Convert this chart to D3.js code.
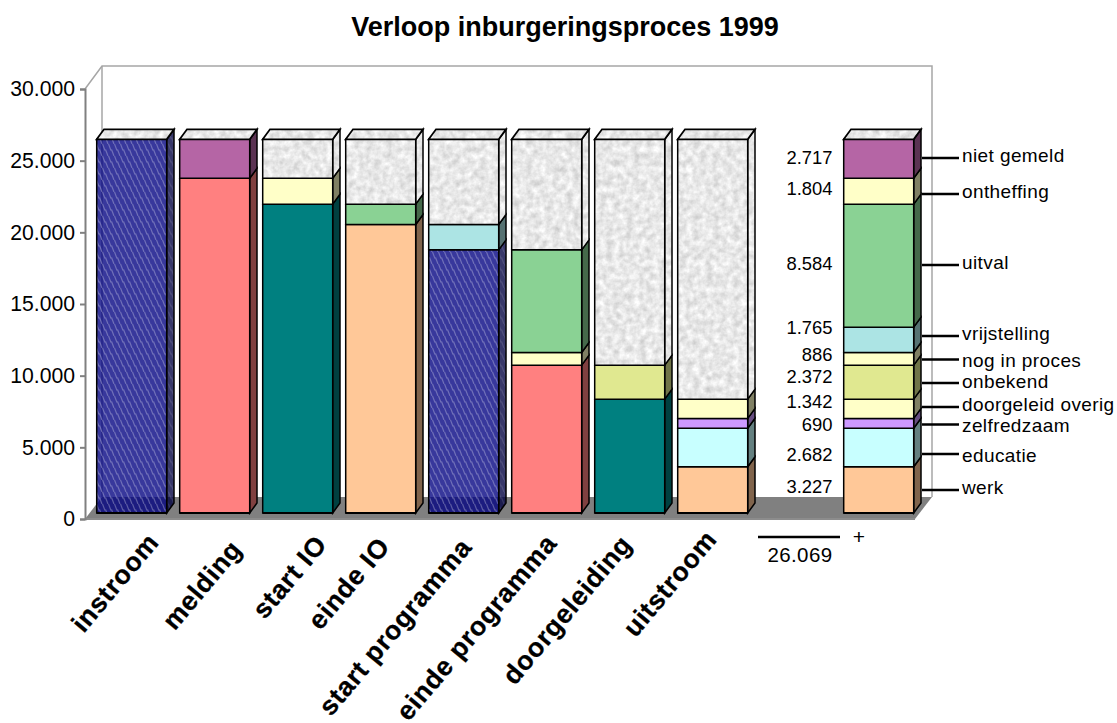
<!DOCTYPE html>
<html><head><meta charset="utf-8">
<style>html,body{margin:0;padding:0;background:#fff}svg{display:block}text{font-family:"Liberation Sans",Arial,sans-serif;fill:#000}</style>
<script src="https://cdn.jsdelivr.net/npm/d3@7/dist/d3.min.js"></script>
</head><body><svg id="c" width="1117" height="723"></svg>
<script>
const title = "Verloop inburgeringsproces 1999";
const categories = ["instroom","melding","start IO","einde IO","start programma","einde programma","doorgeleiding","uitstroom","gap","totaal"];
const yTicks = [0,5000,10000,15000,20000,25000,30000];
// stacked series, bottom to top, one value per category
const instroomValues       = [26069,0,0,0,18360,0,0,0,0,0];
const meldingValues        = [0,23352,0,0,0,10313,0,0,0,0];
const startIOValues        = [0,0,21548,0,0,0,7941,0,0,0];
const werkValues           = [0,0,0,20125,0,0,0,3227,0,3227];
const educatieValues       = [0,0,0,0,0,0,0,2682,0,2682];
const zelfredzaamValues    = [0,0,0,0,0,0,0,690,0,690];
const doorgeleidValues     = [0,0,0,0,0,0,0,1342,0,1342];
const onbekendValues       = [0,0,0,0,0,0,2372,0,0,2372];
const nogInProcesValues    = [0,0,0,0,0,886,0,0,0,886];
const vrijstellingValues   = [0,0,0,0,1765,0,0,0,0,1765];
const uitvalValues         = [0,0,0,1423,0,7161,0,0,0,8584];
const ontheffingValues     = [0,0,1804,0,0,0,0,0,0,1804];
const nietGemeldValues     = [0,2717,0,0,0,0,0,0,0,2717];
const restValues           = [0,0,2717,4521,5944,7709,15756,18128,0,0];
const seriesValues = [instroomValues,meldingValues,startIOValues,werkValues,educatieValues,zelfredzaamValues,doorgeleidValues,onbekendValues,nogInProcesValues,vrijstellingValues,uitvalValues,ontheffingValues,nietGemeldValues,restValues];
const seriesColors = ["navy","#FF8080","#008080","#FFC898","#C8FFFF","#CC99FF","#FFFFC8","#E0E890","#FFFFC8","#ACE4E4","#8AD294","#FFFFC8","#B565A5","speck"];
const totalLabels = ["werk","educatie","zelfredzaam","doorgeleid overig","onbekend","nog in proces","vrijstelling","uitval","ontheffing","niet gemeld"];
const totalValues = [3227,2682,690,1342,2372,886,1765,8584,1804,2717];
const totalSum = 26069;
// hand-placed annotation rows/columns of the original (pixels)
const valueLabelRow  = [487,455,425,402,377,355,328,264,189,158];
const legendLabelRow = [487,455,425,404,381,360,333,262,191,155];
const leaderRow      = [490,454,424.5,407,383,359.5,336,265,194,158];
const categoryLabelEndX = [153,236,321,384,466,551,626,711];
const categoryLabelEndY = [537,544,539,541,542,538,539,534];

const svg = d3.select("#c");
const fmt = v => d3.format(",")(v).replace(/,/g,".");
const y = d3.scaleLinear().domain([0,30000]).range([519,89]);
const barDrop = 6, dx = 7.3, dy = 10;
const x = d3.scaleBand().domain(categories).range([96.7,913.7]).paddingInner(13/83).paddingOuter(0);
const defs = svg.append("defs");

const f = defs.append("filter").attr("id","speck").attr("x","0").attr("y","0").attr("width","1").attr("height","1").attr("color-interpolation-filters","sRGB");
f.append("feTurbulence").attr("type","fractalNoise").attr("baseFrequency","0.15").attr("numOctaves",3).attr("seed",4).attr("result","n");
f.append("feColorMatrix").attr("in","n").attr("type","matrix").attr("values","0.28 0 0 0 0.77  0.28 0 0 0 0.77  0.28 0 0 0 0.77  0 0 0 0 1").attr("result","g");
f.append("feComposite").attr("in","g").attr("in2","SourceAlpha").attr("operator","in");

function hatch(id, base, op, dash){
  const p = defs.append("pattern").attr("id",id).attr("patternUnits","userSpaceOnUse").attr("width",6).attr("height",12);
  p.append("rect").attr("width",6).attr("height",12).attr("fill",base).attr("fill-opacity",op);
  p.append("path").attr("d","M0.5,0L3,6.5M3.5,5.5L6,12M-2.5,5.5L0,12M6.5,0L9,6.5").attr("stroke","#fff").attr("stroke-opacity",dash).attr("stroke-width",1.2).attr("fill","none");
}
hatch("navyFront","#000080",0.78,0.28);
hatch("navySide","#000040",0.78,0.12);

// wall
svg.append("path").attr("d","M85,89L102,66H932V497").attr("fill","none").attr("stroke","#a6a6a6").attr("stroke-width",1.5);
svg.append("line").attr("x1",102).attr("x2",102).attr("y1",66).attr("y2",497).attr("stroke","#a6a6a6").attr("stroke-width",1.5);
// floor
svg.append("path").attr("d",`M85,${y(0)}L915,${y(0)}L932,497L102,497Z`).attr("fill","#808080");
svg.append("line").attr("x1",85).attr("x2",915).attr("y1",y(0)).attr("y2",y(0)).attr("stroke","#8c8c8c").attr("stroke-width",2);

// y axis
const ax = svg.append("g").attr("transform","translate(85,0)").call(d3.axisLeft(y).tickValues(yTicks).tickFormat(fmt).tickSize(5).tickPadding(5));
ax.select(".domain").attr("stroke","#808080").attr("stroke-width",2);
ax.selectAll(".tick line").attr("stroke","#808080").attr("stroke-width",2);
ax.selectAll("text").attr("font-size",21.2).attr("font-family",'"Liberation Sans"').attr("fill","#111");

// bars
const rows = categories.map((c,i)=>{const o={cat:c}; seriesValues.forEach((s,k)=>o[k]=s[i]); return o;});
const stack = d3.stack().keys(seriesValues.map((_,k)=>k))(rows);
const darker = c => { const r=d3.rgb(c); return d3.rgb(r.r*.5,r.g*.5,r.b*.5).formatHex(); };
categories.forEach((c,i)=>{
  const g = svg.append("g");
  const bx = x(c), bw = x.bandwidth();
  let topV = 0;
  stack.forEach((s,k)=>{
    const [a,b] = s[i];
    if(b<=a) return;
    topV = Math.max(topV,b);
    const y0 = y(a)-barDrop, y1 = y(b)-barDrop, col = seriesColors[k];
    const side = `M${bx+bw},${y0}L${bx+bw+dx},${y0-dy}L${bx+bw+dx},${y1-dy}L${bx+bw},${y1}Z`;
    const front = `M${bx},${y0}H${bx+bw}V${y1}H${bx}Z`;
    const draw = (d,fill,flt)=>{ const p=g.append("path").attr("d",d).attr("fill",fill).attr("stroke","none");
      if(flt) p.attr("filter","url(#speck)");
      g.append("path").attr("d",d).attr("fill","none").attr("stroke","#000").attr("stroke-width",1.5); };
    if(col==="navy"){ draw(side,"url(#navySide)"); draw(front,"url(#navyFront)"); }
    else if(col==="speck"){ draw(side,"#eee",true); draw(front,"#eee",true); }
    else { draw(side,darker(col)); draw(front,col); }
    if(a===0) g.append("line").attr("x1",bx).attr("x2",bx+bw).attr("y1",y0).attr("y2",y0).attr("stroke","#000").attr("stroke-width",2);
  });
  if(topV>0){
    const t = y(topV)-barDrop;
    const d = `M${bx},${t}L${bx+dx},${t-dy}H${bx+bw+dx}L${bx+bw},${t}Z`;
    g.append("path").attr("d",d).attr("fill","#eee").attr("filter","url(#speck)");
    g.append("path").attr("d",d).attr("fill","none").attr("stroke","#000").attr("stroke-width",1.8);
  }
});

// category labels
categories.slice(0,8).forEach((c,i)=>{
  svg.append("text").text(c).attr("text-anchor","end")
    .attr("transform",`translate(${categoryLabelEndX[i]},${categoryLabelEndY[i]}) rotate(-50)`)
    .attr("font-size",26.5).attr("font-weight","bold").attr("letter-spacing",0.7).attr("dy","0.35em")
    .attr("fill","#000").attr("stroke","#000").attr("stroke-width",0.3);
});

// title
svg.append("text").text(title).attr("x",565).attr("y",36).attr("text-anchor","middle").attr("font-size",27).attr("font-weight","bold");

// annotations
totalLabels.forEach((t,i)=>{
  svg.append("text").text(fmt(totalValues[i])).attr("x",832.5).attr("y",valueLabelRow[i]).attr("dy","0.35em").attr("text-anchor","end").attr("font-size",18.4).attr("fill","#111");
  svg.append("line").attr("x1",922).attr("x2",959).attr("y1",leaderRow[i]).attr("y2",leaderRow[i]).attr("stroke","#000").attr("stroke-width",2.6);
  svg.append("text").text(t).attr("x",962).attr("y",legendLabelRow[i]).attr("dy","0.35em").attr("font-size",19).attr("letter-spacing",0.4).attr("fill","#111");
});
svg.append("line").attr("x1",758).attr("x2",840).attr("y1",537).attr("y2",537).attr("stroke","#000").attr("stroke-width",2.6);
svg.append("text").text(fmt(totalSum)).attr("x",832.5).attr("y",555).attr("dy","0.35em").attr("text-anchor","end").attr("font-size",20.5).attr("letter-spacing",0.4).attr("fill","#111");
svg.append("text").text("+").attr("x",859).attr("y",537).attr("dy","0.35em").attr("text-anchor","middle").attr("font-size",21).attr("fill","#111");
</script></body></html>
